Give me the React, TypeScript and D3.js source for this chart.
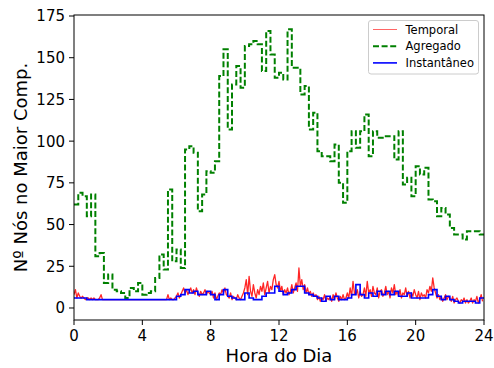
import React from "react";
import * as d3 from "d3";

// Largest-component size over the day, sampled in fixed slots
const AGG_SLOT_MIN = 15;
const INST_SLOT_MIN = 15;
const TEMP_SLOT_MIN = 5;

const AGREGADO = [
  62, 69, 67, 55, 68, 31, 33, 15, 20, 11, 10, 9, 6, 12, 10, 15, 8, 9, 10, 18,
  32, 23, 71, 28, 35, 24, 95, 97, 93, 58, 68, 82, 81, 88, 139, 155, 107, 134,
  145, 132, 157, 158, 160, 158, 142, 166, 152, 138, 141, 137, 167, 144, 144,
  128, 133, 107, 117, 94, 91, 91, 88, 98, 75, 63, 94, 106, 96, 106, 116, 91,
  106, 102, 102, 103, 103, 89, 106, 74, 78, 67, 85, 80, 84, 65, 64, 55, 60, 56,
  48, 44, 44, 41, 46, 46, 46, 44,
];

const INSTANTANEO = [
  6, 6, 6, 5, 5, 5, 5, 5, 5, 5, 5, 5, 5, 5, 5, 5, 5, 5, 5, 5, 5, 5, 5, 5,
  7, 8, 11, 9, 10, 8, 8, 10, 8, 5, 8, 11, 7, 6, 5, 5, 9, 6, 5, 5, 7, 9, 9, 13,
  10, 8, 9, 11, 13, 13, 9, 8, 7, 6, 4, 7, 5, 7, 5, 5, 6, 8, 14, 8, 6, 9, 7, 10,
  8, 10, 8, 10, 7, 7, 9, 6, 6, 6, 6, 8, 11, 7, 5, 7, 5, 4, 3, 4, 4, 4, 3, 6,
];

const TEMPORAL = [
  // 0h
  8, 11, 6, 9, 7, 6, 7, 6, 5, 6, 6, 5,
  // 1h
  6, 5, 6, 5, 5, 5, 6, 8, 5, 5, 5, 5,
  // 2h
  5, 5, 5, 5, 5, 5, 5, 5, 5, 5, 5, 5,
  // 3h
  5, 5, 5, 5, 5, 5, 5, 5, 5, 5, 5, 5,
  // 4h
  5, 5, 5, 5, 5, 5, 5, 5, 5, 5, 5, 5,
  // 5h
  5, 5, 5, 5, 5, 5, 8, 5, 6, 5, 5, 6,
  // 6h
  7, 9, 6, 8, 10, 12, 9, 11, 8, 10, 12, 9,
  // 7h
  11, 8, 12, 9, 7, 10, 8, 9, 11, 8, 10, 9,
  // 8h
  8, 10, 6, 9, 5, 7, 9, 8, 11, 9, 12, 8,
  // 9h
  7, 6, 9, 5, 7, 6, 5, 8, 6, 5, 7, 9,
  // 10h
  12, 17, 8, 19, 10, 7, 14, 9, 6, 11, 8, 13,
  // 11h
  10, 15, 8, 12, 16, 9, 13, 11, 17, 20, 14, 12,
  // 12h
  16, 10, 13, 8, 11, 9, 12, 8, 10, 14, 9, 12,
  // 13h
  15, 10, 24, 13, 17, 11, 14, 9, 12, 8, 10, 7,
  // 14h
  9, 7, 8, 5, 7, 4, 6, 5, 8, 4, 6, 5,
  // 15h
  7, 4, 8, 5, 9, 6, 4, 7, 5, 8, 5, 6,
  // 16h
  9, 6, 12, 7, 16, 9, 8, 11, 6, 10, 7, 8,
  // 17h
  12, 7, 16, 9, 11, 7, 13, 9, 8, 12, 6, 10,
  // 18h
  11, 7, 9, 13, 8, 10, 6, 12, 9, 14, 8, 10,
  // 19h
  7, 11, 6, 9, 8, 12, 7, 10, 6, 9, 7, 11,
  // 20h
  8, 6, 10, 5, 9, 7, 8, 6, 11, 9, 13, 10,
  // 21h
  18, 12, 9, 6, 8, 5, 7, 4, 6, 8, 5, 7,
  // 22h
  6, 4, 7, 3, 5, 6, 4, 3, 5, 4, 6, 3,
  // 23h
  5, 3, 4, 6, 3, 5, 4, 7, 3, 5, 8, 4,
];

const X_TICKS = [0, 4, 8, 12, 16, 20, 24];
const Y_TICKS = [0, 25, 50, 75, 100, 125, 150, 175];

const W = 494;
const H = 368;
const LEFT = 74;
const RIGHT = 484;
const TOP = 15;
const BOTTOM = 320;
const FONT = "DejaVu Sans, sans-serif";

const x = d3.scaleLinear().domain([0, 24]).range([LEFT, RIGHT]);
const y = d3.scaleLinear().domain([-7.2, 175.6]).range([BOTTOM, TOP]);

// Turn slot values into [hour, value] pairs, closing the last slot at its end
function toPoints(values: number[], slotMin: number): [number, number][] {
  const pts: [number, number][] = values.map((v, i) => [(i * slotMin) / 60, v]);
  pts.push([(values.length * slotMin) / 60, values[values.length - 1]]);
  return pts;
}

const stepLine = d3
  .line<[number, number]>()
  .x((d) => x(d[0]))
  .y((d) => y(d[1]))
  .curve(d3.curveStepAfter);

const plainLine = d3
  .line<[number, number]>()
  .x((d) => x(d[0]))
  .y((d) => y(d[1]));

const temporalPts: [number, number][] = TEMPORAL.map((v, i) => [
  (i * TEMP_SLOT_MIN) / 60,
  v,
]);

const LEGEND = [
  { label: "Temporal", color: "#ff0000", width: 1, dash: "", opacity: 0.6 },
  { label: "Agregado", color: "#008000", width: 2, dash: "6,2.6", opacity: 1 },
  { label: "Instantâneo", color: "#0000ff", width: 1.6, dash: "", opacity: 1 },
];

export default function App() {
  return (
    <div style={{ position: "absolute", left: 0, top: 0 }}>
      <svg width={W} height={H} style={{ display: "block", background: "#fff" }}>
        <defs>
          <clipPath id="plot-area">
            <rect x={LEFT} y={TOP} width={RIGHT - LEFT} height={BOTTOM - TOP} />
          </clipPath>
        </defs>

        <g clipPath="url(#plot-area)">
          <path
            d={plainLine(temporalPts) ?? ""}
            fill="none"
            stroke="#ff0000"
            strokeWidth={1.3}
            strokeOpacity={0.85}
            strokeLinejoin="round"
          />
          <path
            d={stepLine(toPoints(AGREGADO, AGG_SLOT_MIN)) ?? ""}
            fill="none"
            stroke="#008000"
            strokeWidth={2}
            strokeDasharray="6,2.6"
          />
          <path
            d={stepLine(toPoints(INSTANTANEO, INST_SLOT_MIN)) ?? ""}
            fill="none"
            stroke="#0000ff"
            strokeWidth={1.6}
          />
        </g>

        {/* frame */}
        <rect
          x={LEFT}
          y={TOP}
          width={RIGHT - LEFT}
          height={BOTTOM - TOP}
          fill="none"
          stroke="#000"
          strokeWidth={1}
        />

        {/* x axis */}
        {X_TICKS.map((t) => (
          <g key={`x${t}`}>
            <line x1={x(t)} x2={x(t)} y1={BOTTOM} y2={BOTTOM + 5} stroke="#000" strokeWidth={1} />
            <text
              x={x(t)}
              y={BOTTOM + 20.5}
              textAnchor="middle"
              fontFamily={FONT}
              fontSize={15}
              fill="#000"
            >
              {t}
            </text>
          </g>
        ))}

        {/* y axis */}
        {Y_TICKS.map((t) => (
          <g key={`y${t}`}>
            <line x1={LEFT - 5} x2={LEFT} y1={y(t)} y2={y(t)} stroke="#000" strokeWidth={1} />
            <text
              x={LEFT - 9}
              y={y(t)}
              dy="0.36em"
              textAnchor="end"
              fontFamily={FONT}
              fontSize={15}
              fill="#000"
            >
              {t}
            </text>
          </g>
        ))}

        <text
          x={(LEFT + RIGHT) / 2}
          y={362}
          textAnchor="middle"
          fontFamily={FONT}
          fontSize={18}
          fill="#000"
        >
          Hora do Dia
        </text>
        <text
          transform={`translate(27, ${(TOP + BOTTOM) / 2}) rotate(-90)`}
          textAnchor="middle"
          fontFamily={FONT}
          fontSize={18}
          fill="#000"
        >
          Nº Nós no Maior Comp.
        </text>

        {/* legend */}
        <g>
          <rect
            x={368.5}
            y={20.5}
            width={110}
            height={53.5}
            rx={2.5}
            fill="#fff"
            fillOpacity={0.8}
            stroke="#cccccc"
            strokeWidth={1}
          />
          {LEGEND.map((e, i) => {
            const cy = 29.5 + i * 16.7;
            return (
              <g key={e.label}>
                <line
                  x1={373}
                  x2={397}
                  y1={cy}
                  y2={cy}
                  stroke={e.color}
                  strokeWidth={e.width}
                  strokeOpacity={e.opacity}
                  strokeDasharray={e.dash || undefined}
                />
                <text
                  x={405.5}
                  y={cy}
                  dy="0.36em"
                  fontFamily={FONT}
                  fontSize={11.5}
                  fill="#000"
                >
                  {e.label}
                </text>
              </g>
            );
          })}
        </g>
      </svg>
    </div>
  );
}
